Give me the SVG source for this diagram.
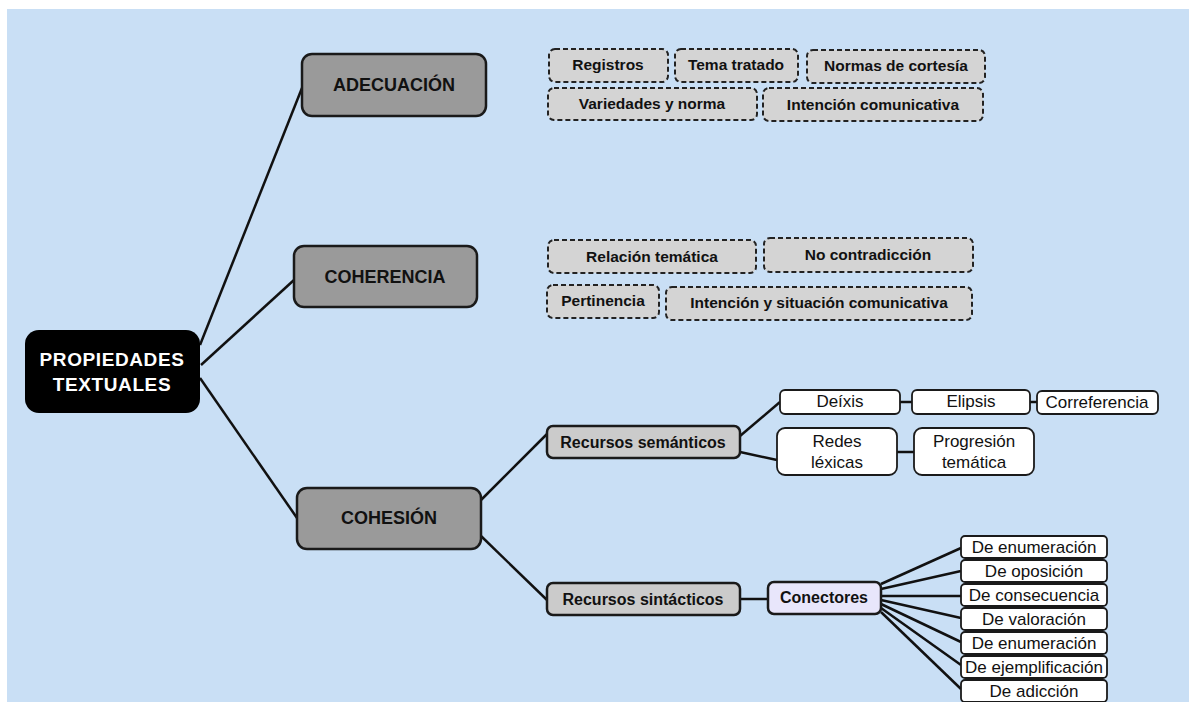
<svg xmlns="http://www.w3.org/2000/svg" width="1189" height="702" viewBox="0 0 1189 702">
<style>
text{font-family:"Liberation Sans",Arial,sans-serif;text-anchor:middle;dominant-baseline:central;fill:#111}
.main rect{fill:#9a9a9a;stroke:#1a1a1a;stroke-width:2.5}
.main text{font-size:18px;font-weight:bold}
.dash rect{fill:#d4d4d4;stroke:#222;stroke-width:2;stroke-dasharray:5 3}
.dash text{font-size:15.5px;font-weight:bold}
.sub rect{fill:#cbcbcb;stroke:#1a1a1a;stroke-width:2.5}
.sub text{font-size:16px;font-weight:bold}
.leaf rect{fill:#fff;stroke:#1a1a1a;stroke-width:1.8}
.leaf text{font-size:17px}
#connectors line{stroke:#111;stroke-width:2.5}
</style>
<rect x="7" y="9" width="1182" height="693" fill="#c9dff5"/>
<g id="connectors">
<line x1="200" y1="345" x2="302" y2="88"/>
<line x1="201" y1="365" x2="294" y2="280"/>
<line x1="200" y1="378" x2="297" y2="518"/>
<line x1="481" y1="500" x2="547" y2="434"/>
<line x1="481" y1="536" x2="547" y2="600"/>
<line x1="740" y1="436" x2="780" y2="402"/>
<line x1="740" y1="452" x2="777" y2="460"/>
<line x1="900" y1="402" x2="912" y2="402"/>
<line x1="1030" y1="402" x2="1037" y2="402"/>
<line x1="897" y1="452" x2="914" y2="452"/>
<line x1="740" y1="599" x2="768" y2="599"/>
<line x1="881" y1="584" x2="961" y2="548"/>
<line x1="881" y1="589" x2="961" y2="571"/>
<line x1="881" y1="596" x2="961" y2="596"/>
<line x1="881" y1="600" x2="961" y2="618"/>
<line x1="881" y1="604" x2="961" y2="642"/>
<line x1="881" y1="608" x2="961" y2="665"/>
<line x1="881" y1="612" x2="961" y2="689"/>
</g>
<g id="n-root"><rect x="25" y="330" width="175" height="83" rx="14" fill="#000"/>
<text x="112" y="359" font-size="19" font-weight="bold" letter-spacing="0.6" style="fill:#fff">PROPIEDADES</text>
<text x="112" y="384" font-size="19" font-weight="bold" letter-spacing="0.6" style="fill:#fff">TEXTUALES</text></g>
<g id="n-adecuacion" class="main"><rect x="302" y="54" width="184" height="62" rx="10"/><text x="394" y="85">ADECUACIÓN</text></g>
<g id="n-coherencia" class="main"><rect x="294" y="246" width="183" height="61" rx="10"/><text x="385" y="277">COHERENCIA</text></g>
<g id="n-cohesion" class="main"><rect x="297" y="488" width="184" height="61" rx="10"/><text x="389" y="518">COHESIÓN</text></g>
<g id="n-registros" class="dash"><rect x="549" y="49" width="119" height="33" rx="6"/><text x="608" y="64">Registros</text></g>
<g id="n-tema" class="dash"><rect x="675" y="49" width="123" height="33" rx="6"/><text x="736" y="64">Tema tratado</text></g>
<g id="n-normas" class="dash"><rect x="807" y="50" width="178" height="33" rx="6"/><text x="896" y="65">Normas de cortesía</text></g>
<g id="n-variedades" class="dash"><rect x="548" y="88" width="209" height="32" rx="6"/><text x="652" y="103">Variedades y norma</text></g>
<g id="n-intencion" class="dash"><rect x="763" y="88" width="220" height="33" rx="6"/><text x="873" y="104">Intención comunicativa</text></g>
<g id="n-relacion" class="dash"><rect x="548" y="240" width="208" height="33" rx="6"/><text x="652" y="256">Relación temática</text></g>
<g id="n-nocontra" class="dash"><rect x="764" y="238" width="209" height="34" rx="6"/><text x="868" y="254">No contradicción</text></g>
<g id="n-pertinencia" class="dash"><rect x="547" y="285" width="112" height="33" rx="6"/><text x="603" y="300">Pertinencia</text></g>
<g id="n-intsit" class="dash"><rect x="666" y="287" width="306" height="33" rx="6"/><text x="819" y="302">Intención y situación comunicativa</text></g>
<g id="n-semanticos" class="sub"><rect x="547" y="426" width="193" height="32" rx="6"/><text x="643" y="442">Recursos semánticos</text></g>
<g id="n-sintacticos" class="sub"><rect x="547" y="583" width="193" height="32" rx="6"/><text x="643" y="599">Recursos sintácticos</text></g>
<g id="n-conectores" class="sub"><rect x="768" y="582" width="113" height="32" rx="6" style="fill:#e8e6fb"/><text x="824" y="597">Conectores</text></g>
<g id="n-deixis" class="leaf"><rect x="780" y="390" width="120" height="24" rx="5"/><text x="840" y="401">Deíxis</text></g>
<g id="n-elipsis" class="leaf"><rect x="912" y="390" width="118" height="24" rx="5"/><text x="971" y="401">Elipsis</text></g>
<g id="n-correferencia" class="leaf"><rect x="1037" y="391" width="121" height="23" rx="5"/><text x="1097" y="402" font-size="15.5">Correferencia</text></g>
<g id="n-redes" class="leaf"><rect x="777" y="428" width="120" height="47" rx="8"/><text x="837" y="441">Redes</text><text x="837" y="462">léxicas</text></g>
<g id="n-progresion" class="leaf"><rect x="914" y="428" width="120" height="47" rx="8"/><text x="974" y="441">Progresión</text><text x="974" y="462">temática</text></g>
<g id="n-c1" class="leaf"><rect x="961" y="536" width="146" height="22" rx="4"/><text x="1034" y="547">De enumeración</text></g>
<g id="n-c2" class="leaf"><rect x="961" y="560" width="146" height="22" rx="4"/><text x="1034" y="571">De oposición</text></g>
<g id="n-c3" class="leaf"><rect x="961" y="584" width="146" height="22" rx="4"/><text x="1034" y="595">De consecuencia</text></g>
<g id="n-c4" class="leaf"><rect x="961" y="608" width="146" height="22" rx="4"/><text x="1034" y="619">De valoración</text></g>
<g id="n-c5" class="leaf"><rect x="961" y="632" width="146" height="22" rx="4"/><text x="1034" y="643">De enumeración</text></g>
<g id="n-c6" class="leaf"><rect x="961" y="656" width="146" height="22" rx="4"/><text x="1034" y="667">De ejemplificación</text></g>
<g id="n-c7" class="leaf"><rect x="961" y="680" width="146" height="22" rx="4"/><text x="1034" y="691">De adicción</text></g>
</svg>
